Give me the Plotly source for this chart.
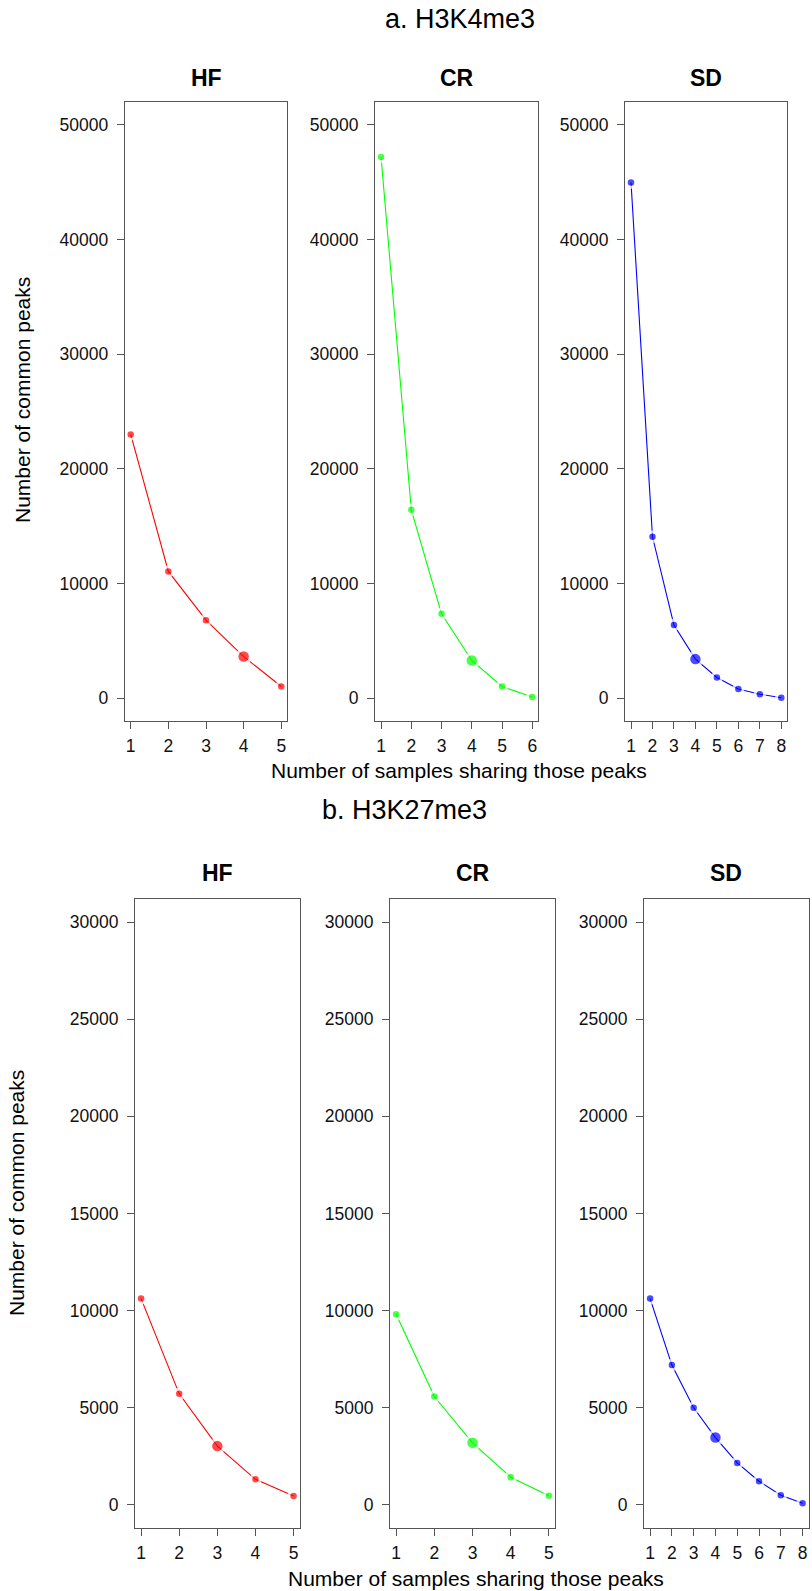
import plotly.graph_objects as go

# ---------------- data ----------------
groups = ["HF", "CR", "SD"]

k4_HF = [23000, 11050, 6800, 3620, 1010]
k4_CR = [47200, 16420, 7350, 3280, 1010, 90]
k4_SD = [44980, 14070, 6370, 3400, 1800, 785, 340, 30]
k4_highlight = {"HF": 4, "CR": 4, "SD": 4}

k27_HF = [10620, 5720, 3030, 1320, 460]
k27_CR = [9810, 5580, 3200, 1430, 480]
k27_SD = [10620, 7200, 5000, 3470, 2165, 1220, 500, 90]
k27_highlight = {"HF": 3, "CR": 3, "SD": 4}

k4_yticks = [0, 10000, 20000, 30000, 40000, 50000]
k27_yticks = [0, 5000, 10000, 15000, 20000, 25000, 30000]

colors = {"HF": "#FF0000", "CR": "#00FF00", "SD": "#0000FF"}

main_titles = ["a. H3K4me3", "b. H3K27me3"]
xlab = "Number of samples sharing those peaks"
ylab = "Number of common peaks"

# ---------------- layout geometry (pixels) ----------------
W, H = 812, 1591
FONT = "Liberation Sans, Arial, Helvetica, sans-serif"
BOX = "#555555"

rows = [
    dict(data={"HF": k4_HF, "CR": k4_CR, "SD": k4_SD}, hl=k4_highlight,
         ylim=(0, 50000), yticks=k4_yticks,
         top=102, bottom=721,
         xs={"HF": (124.7, 287.3), "CR": (375, 538.3), "SD": (625, 787.3)},
         title_y=19, title_x=460, ptitle_y=78, xlab_y=770.5, xlab_x=459,
         ylab_x=23, ylab_y=400),
    dict(data={"HF": k27_HF, "CR": k27_CR, "SD": k27_SD}, hl=k27_highlight,
         ylim=(0, 30000), yticks=k27_yticks,
         top=898.7, bottom=1528.3,
         xs={"HF": (135, 299.7), "CR": (390, 555), "SD": (644, 808.7)},
         title_y=810, title_x=404, ptitle_y=872.5, xlab_y=1578, xlab_x=476,
         ylab_x=16, ylab_y=1193),
]


def px_x(p):
    return p / W


def px_y(p):
    return 1 - p / H


fig = go.Figure()
layout = dict(
    width=W, height=H, margin=dict(l=0, r=0, t=0, b=0),
    paper_bgcolor="white", plot_bgcolor="white", showlegend=False,
    font=dict(family=FONT, color="#000000"),
)
annotations = []

k = 0
for r, row in enumerate(rows):
    lo, hi = row["ylim"]
    pad = 0.04 * (hi - lo)
    for g in groups:
        k += 1
        vals = row["data"][g]
        n = len(vals)
        xs = list(range(1, n + 1))
        hl = row["hl"][g]
        sizes = [13.5 if x == hl else 9.5 for x in xs]
        xname = "x" if k == 1 else f"x{k}"
        yname = "y" if k == 1 else f"y{k}"
        fig.add_trace(go.Scatter(
            x=xs, y=vals, xaxis=xname, yaxis=yname, mode="lines+markers",
            line=dict(color=colors[g], width=1.1),
            marker=dict(color=colors[g], size=sizes,
                        line=dict(color="white", width=3)),
            cliponaxis=False, hoverinfo="skip",
        ))
        x0, x1 = row["xs"][g]
        xpad = 0.04 * (n - 1)
        axkey = "xaxis" if k == 1 else f"xaxis{k}"
        aykey = "yaxis" if k == 1 else f"yaxis{k}"
        layout[axkey] = dict(
            domain=[px_x(x0), px_x(x1)], anchor=yname,
            range=[1 - xpad, n + xpad], tickvals=xs,
            ticktext=[str(x) for x in xs],
            showline=True, linecolor=BOX, linewidth=1, mirror=True,
            ticks="outside", ticklen=7, tickcolor=BOX, tickwidth=1,
            showgrid=False, zeroline=False,
            tickfont=dict(size=17.5, family=FONT, color="#111111"),
            ticklabelstandoff=2,
        )
        layout[aykey] = dict(
            domain=[px_y(row["bottom"]), px_y(row["top"])], anchor=xname,
            range=[lo - pad, hi + pad], tickvals=row["yticks"],
            ticktext=[str(v) for v in row["yticks"]],
            showline=True, linecolor=BOX, linewidth=1, mirror=True,
            ticks="outside", ticklen=7, tickcolor=BOX, tickwidth=1,
            showgrid=False, zeroline=False,
            tickfont=dict(size=17.5, family=FONT, color="#111111"),
            ticklabelstandoff=5,
        )
        annotations.append(dict(
            text=f"<b>{g}</b>", x=px_x((x0 + x1) / 2), y=px_y(row["ptitle_y"]),
            xref="paper", yref="paper", xanchor="center", yanchor="middle",
            showarrow=False, font=dict(size=23, family=FONT, color="#000000"),
        ))
    annotations.append(dict(
        text=main_titles[r], x=px_x(row["title_x"]), y=px_y(row["title_y"]),
        xref="paper", yref="paper", xanchor="center", yanchor="middle",
        showarrow=False, font=dict(size=27, family=FONT, color="#000000"),
    ))
    annotations.append(dict(
        text=xlab, x=px_x(row["xlab_x"]), y=px_y(row["xlab_y"]),
        xref="paper", yref="paper", xanchor="center", yanchor="middle",
        showarrow=False, font=dict(size=21, family=FONT, color="#000000"),
    ))
    annotations.append(dict(
        text=ylab, x=px_x(row["ylab_x"]), y=px_y(row["ylab_y"]),
        xref="paper", yref="paper", xanchor="center", yanchor="middle",
        textangle=-90, showarrow=False,
        font=dict(size=21, family=FONT, color="#000000"),
    ))

layout["annotations"] = annotations
fig.update_layout(**layout)
fig.write_html("out.html")
